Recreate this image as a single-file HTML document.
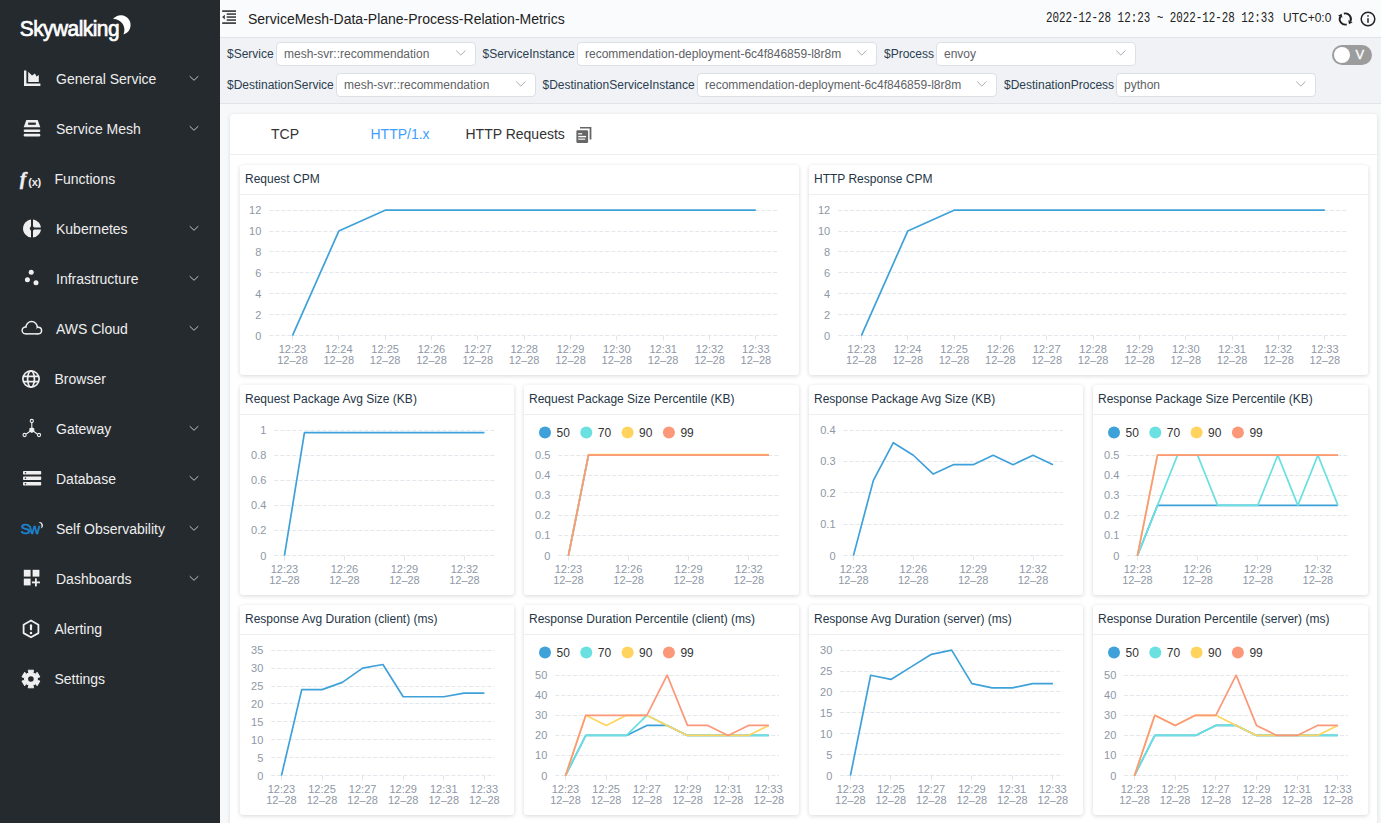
<!DOCTYPE html>
<html><head><meta charset="utf-8"><title>SkyWalking</title>
<style>html,body{margin:0;padding:0;width:1381px;height:823px;overflow:hidden;background:#f7f8fa;font-family:'Liberation Sans', sans-serif;}</style>
</head><body>
<div id="side" style="position:absolute;left:0;top:0;width:220px;height:823px;background:#252a2f;"></div><svg width="220" height="823" style="position:absolute;left:0;top:0"><text x="0" y="0" transform="translate(19.8 35.8) scale(0.95 1)" font-family="Liberation Sans" font-size="22" fill="#fff" stroke="#fff" stroke-width="0.7" letter-spacing="-0.55">Skywalking</text><path d="M113 19.1A9.8 9.8 0 1 1 123.4 34.5A10.8 10.8 0 0 0 113 19.1Z" fill="#fff"/><path d="M24 70.5h2.4v13h14v2.4H24z" fill="#efefef"/><path d="M28.2 71.8l3.8 3.8 3-2.2 1.5 3.1 2.3-1.4v6.8h-10.6z" fill="#efefef"/><text x="56" y="84" font-family="Liberation Sans" font-size="14" fill="#eeeeee">General Service</text><path d="M189.7 76.2l4.3 4.1 4.3-4.1" fill="none" stroke="#c0c4cc" stroke-width="1"/><path d="M26.3 120h11.4l2.6 7.2H23.7z" fill="#efefef"/><rect x="28.2" y="122.6" width="7.6" height="2.2" fill="#252a2f"/><rect x="23.7" y="129.4" width="16.6" height="2.6" rx="1.2" fill="#efefef"/><rect x="23.7" y="133.8" width="16.6" height="2.6" rx="1.2" fill="#efefef"/><text x="56" y="134" font-family="Liberation Sans" font-size="14" fill="#eeeeee">Service Mesh</text><path d="M189.7 126.2l4.3 4.1 4.3-4.1" fill="none" stroke="#c0c4cc" stroke-width="1"/><text x="20" y="185.3" font-family="Liberation Serif" font-style="italic" font-weight="bold" font-size="18" fill="#efefef" stroke="#efefef" stroke-width="0.6">f</text><text x="28.3" y="186.2" font-family="Liberation Sans" font-weight="bold" font-size="11" fill="#efefef" letter-spacing="-0.3">(x)</text><text x="54.5" y="184" font-family="Liberation Sans" font-size="14" fill="#eeeeee">Functions</text><path d="M32 219.5a9 9 0 1 0 0.01 0z" fill="#efefef"/><rect x="31" y="218" width="2" height="20" fill="#252a2f"/><rect x="31" y="227.5" width="12" height="2" fill="#252a2f"/><circle cx="32" cy="228.5" r="2.2" fill="#252a2f"/><text x="56" y="234" font-family="Liberation Sans" font-size="14" fill="#eeeeee">Kubernetes</text><path d="M189.7 226.2l4.3 4.1 4.3-4.1" fill="none" stroke="#c0c4cc" stroke-width="1"/><circle cx="31.2" cy="272.2" r="2.5" fill="#efefef"/><circle cx="27.4" cy="279.8" r="2.5" fill="#efefef"/><circle cx="36" cy="282.8" r="2.5" fill="#efefef"/><text x="56" y="284" font-family="Liberation Sans" font-size="14" fill="#eeeeee">Infrastructure</text><path d="M189.7 276.2l4.3 4.1 4.3-4.1" fill="none" stroke="#c0c4cc" stroke-width="1"/><g fill="#efefef"><circle cx="25.6" cy="330.4" r="4.2"/><circle cx="31.6" cy="327.2" r="6.4"/><circle cx="38.2" cy="330.5" r="4.1"/><rect x="25.6" y="330" width="12.6" height="4.6"/></g><g fill="#252a2f"><circle cx="25.6" cy="330.4" r="2.7"/><circle cx="31.6" cy="327.2" r="4.9"/><circle cx="38.2" cy="330.5" r="2.6"/><rect x="25.6" y="330" width="12.6" height="3.1"/></g><text x="56" y="334" font-family="Liberation Sans" font-size="14" fill="#eeeeee">AWS Cloud</text><path d="M189.7 326.2l4.3 4.1 4.3-4.1" fill="none" stroke="#c0c4cc" stroke-width="1"/><g fill="none" stroke="#efefef" stroke-width="1.7"><circle cx="31" cy="379" r="8.1"/><ellipse cx="31" cy="379" rx="3.4" ry="8.1"/><path d="M23 376.3h16M23 381.7h16"/></g><text x="54.5" y="384" font-family="Liberation Sans" font-size="14" fill="#eeeeee">Browser</text><g fill="none" stroke="#efefef" stroke-width="1.1"><circle cx="31.8" cy="421" r="1.6"/><path d="M31.8 422.6v5.2M31.8 430l-5.5 4M31.8 430l5.5 4"/><circle cx="24.6" cy="435" r="1.6"/><circle cx="39" cy="435" r="1.6"/></g><path d="M29.3 428.6l2.5-1.4 2.5 1.4v2.9l-2.5 1.4-2.5-1.4z" fill="#efefef"/><text x="56" y="434" font-family="Liberation Sans" font-size="14" fill="#eeeeee">Gateway</text><path d="M189.7 426.2l4.3 4.1 4.3-4.1" fill="none" stroke="#c0c4cc" stroke-width="1"/><g fill="#efefef"><rect x="23" y="471" width="18.2" height="3.6" rx="0.8"/><rect x="23" y="476.5" width="18.2" height="3.6" rx="0.8"/><rect x="23" y="482" width="18.2" height="3.6" rx="0.8"/></g><g fill="#252a2f"><circle cx="25.5" cy="472.8" r="0.8"/><circle cx="25.5" cy="478.3" r="0.8"/><circle cx="25.5" cy="483.8" r="0.8"/></g><text x="56" y="484" font-family="Liberation Sans" font-size="14" fill="#eeeeee">Database</text><path d="M189.7 476.2l4.3 4.1 4.3-4.1" fill="none" stroke="#c0c4cc" stroke-width="1"/><text x="20.6" y="534.4" font-family="Liberation Sans" font-size="15" letter-spacing="-1.3" fill="#1c86d1" stroke="#1c86d1" stroke-width="0.5">Sw</text><path d="M38.4 522.2A3.3 3.3 0 1 1 40.6 528.6A3.9 3.9 0 0 0 38.4 522.2Z" fill="#efefef"/><text x="56" y="534" font-family="Liberation Sans" font-size="14" fill="#eeeeee">Self Observability</text><path d="M189.7 526.2l4.3 4.1 4.3-4.1" fill="none" stroke="#c0c4cc" stroke-width="1"/><g fill="#efefef"><rect x="23.8" y="569.8" width="6.8" height="6.8"/><rect x="32.6" y="569.8" width="6.8" height="6.8"/><rect x="23.8" y="578.6" width="6.8" height="6.8"/><rect x="35" y="578.4" width="1.8" height="8"/><rect x="31.9" y="581.5" width="8" height="1.8"/></g><text x="56" y="584" font-family="Liberation Sans" font-size="14" fill="#eeeeee">Dashboards</text><path d="M189.7 576.2l4.3 4.1 4.3-4.1" fill="none" stroke="#c0c4cc" stroke-width="1"/><path d="M31 620.5l7.4 4.2v8.4l-7.4 4.2-7.4-4.2v-8.4z" fill="none" stroke="#efefef" stroke-width="1.8" stroke-linejoin="round"/><rect x="29.9" y="624.2" width="2.2" height="6.2" rx="1.1" fill="#efefef"/><circle cx="31" cy="633" r="1.25" fill="#efefef"/><text x="54.5" y="634" font-family="Liberation Sans" font-size="14" fill="#eeeeee">Alerting</text><path d="M28.18 670.21 L33.62 670.21 L32.87 672.70 L35.37 674.14 L37.15 672.25 L39.87 676.96 L37.34 677.56 L37.34 680.44 L39.87 681.04 L37.15 685.75 L35.37 683.86 L32.87 685.30 L33.62 687.79 L28.18 687.79 L28.93 685.30 L26.43 683.86 L24.65 685.75 L21.93 681.04 L24.46 680.44 L24.46 677.56 L21.93 676.96 L24.65 672.25 L26.43 674.14 L28.93 672.70Z" fill="#efefef" stroke="#efefef" stroke-width="1" stroke-linejoin="round"/><circle cx="30.9" cy="679.0" r="2.8" fill="#252a2f"/><text x="54.5" y="684" font-family="Liberation Sans" font-size="14" fill="#eeeeee">Settings</text></svg><div style="position:absolute;left:220px;top:0;width:1161px;height:37px;background:#fafbfc;border-bottom:1px solid #dfe4e8;"></div><svg width="20" height="20" style="position:absolute;left:220px;top:7px"><g fill="#333"><rect x="2.2" y="3.3" width="13.8" height="1.6"/><rect x="6.7" y="6.3" width="9.3" height="1.5"/><rect x="6.7" y="9.3" width="9.3" height="1.5"/><rect x="6.7" y="12.3" width="9.3" height="1.5"/><rect x="2.2" y="15.3" width="13.8" height="1.6"/><path d="M2.2 10.1l2.6-2.4v4.8z"/></g></svg><div style="position:absolute;left:248px;top:11px;font:14px 'Liberation Sans', sans-serif;color:#222;line-height:16px;white-space:nowrap">ServiceMesh-Data-Plane-Process-Relation-Metrics</div><div style="position:absolute;left:1046px;top:10px;font:14px 'Liberation Mono',monospace;color:#222;line-height:16px;white-space:nowrap;transform:scaleX(0.775);transform-origin:0 0">2022-12-28 12:23 ~ 2022-12-28 12:33</div><div style="position:absolute;left:1283px;top:10px;font:12px 'Liberation Sans', sans-serif;color:#222;line-height:16px;white-space:nowrap">UTC+0:0</div><svg width="20" height="20" style="position:absolute;left:1335px;top:9px"><g fill="none" stroke="#222" stroke-width="1.9"><path d="M8.85 4.59A5.6 5.6 0 0 1 15.38 12.37"/><path d="M11.75 15.41A5.6 5.6 0 0 1 5.22 7.63"/></g><g fill="#222"><path d="M14.0 15.3L17.6 13.2L13.2 11.3z"/><path d="M6.6 4.7L3.0 6.8L7.4 8.7z"/></g></svg><svg width="20" height="20" style="position:absolute;left:1358px;top:9px"><circle cx="10" cy="10" r="6.8" fill="none" stroke="#222" stroke-width="1.5"/><rect x="9.2" y="9.2" width="1.6" height="4.6" fill="#333"/><circle cx="10" cy="6.9" r="0.95" fill="#444"/></svg><div style="position:absolute;left:220px;top:38px;width:1161px;height:65px;background:#f0f2f5;border-bottom:1px solid #dfe4e8;"></div><div style="position:absolute;left:227px;top:47px;font:12px 'Liberation Sans', sans-serif;color:#2c3e50;line-height:14px;white-space:nowrap">$Service</div><div style="position:absolute;left:276px;top:42px;width:198px;height:22px;background:#fff;border:1px solid #dcdfe6;border-radius:4px;"></div><div style="position:absolute;left:284px;top:47px;font:12px 'Liberation Sans', sans-serif;color:#606266;line-height:14px;white-space:nowrap">mesh-svr::recommendation</div><svg width="12" height="8" style="position:absolute;left:455px;top:49px"><path d="M1.2 1.5l4.6 4.6 4.6-4.6" fill="none" stroke="#a8abb2" stroke-width="1"/></svg><div style="position:absolute;left:482.5px;top:47px;font:12px 'Liberation Sans', sans-serif;color:#2c3e50;line-height:14px;white-space:nowrap">$ServiceInstance</div><div style="position:absolute;left:577px;top:42px;width:298px;height:22px;background:#fff;border:1px solid #dcdfe6;border-radius:4px;"></div><div style="position:absolute;left:585px;top:47px;font:12px 'Liberation Sans', sans-serif;color:#606266;line-height:14px;white-space:nowrap">recommendation-deployment-6c4f846859-l8r8m</div><svg width="12" height="8" style="position:absolute;left:856px;top:49px"><path d="M1.2 1.5l4.6 4.6 4.6-4.6" fill="none" stroke="#a8abb2" stroke-width="1"/></svg><div style="position:absolute;left:884px;top:47px;font:12px 'Liberation Sans', sans-serif;color:#2c3e50;line-height:14px;white-space:nowrap">$Process</div><div style="position:absolute;left:936px;top:42px;width:198px;height:22px;background:#fff;border:1px solid #dcdfe6;border-radius:4px;"></div><div style="position:absolute;left:944px;top:47px;font:12px 'Liberation Sans', sans-serif;color:#606266;line-height:14px;white-space:nowrap">envoy</div><svg width="12" height="8" style="position:absolute;left:1115px;top:49px"><path d="M1.2 1.5l4.6 4.6 4.6-4.6" fill="none" stroke="#a8abb2" stroke-width="1"/></svg><div style="position:absolute;left:227px;top:78px;font:12px 'Liberation Sans', sans-serif;color:#2c3e50;line-height:14px;white-space:nowrap">$DestinationService</div><div style="position:absolute;left:336px;top:73px;width:198px;height:22px;background:#fff;border:1px solid #dcdfe6;border-radius:4px;"></div><div style="position:absolute;left:344px;top:78px;font:12px 'Liberation Sans', sans-serif;color:#606266;line-height:14px;white-space:nowrap">mesh-svr::recommendation</div><svg width="12" height="8" style="position:absolute;left:515px;top:80px"><path d="M1.2 1.5l4.6 4.6 4.6-4.6" fill="none" stroke="#a8abb2" stroke-width="1"/></svg><div style="position:absolute;left:542.5px;top:78px;font:12px 'Liberation Sans', sans-serif;color:#2c3e50;line-height:14px;white-space:nowrap">$DestinationServiceInstance</div><div style="position:absolute;left:697px;top:73px;width:298px;height:22px;background:#fff;border:1px solid #dcdfe6;border-radius:4px;"></div><div style="position:absolute;left:705px;top:78px;font:12px 'Liberation Sans', sans-serif;color:#606266;line-height:14px;white-space:nowrap">recommendation-deployment-6c4f846859-l8r8m</div><svg width="12" height="8" style="position:absolute;left:976px;top:80px"><path d="M1.2 1.5l4.6 4.6 4.6-4.6" fill="none" stroke="#a8abb2" stroke-width="1"/></svg><div style="position:absolute;left:1004px;top:78px;font:12px 'Liberation Sans', sans-serif;color:#2c3e50;line-height:14px;white-space:nowrap">$DestinationProcess</div><div style="position:absolute;left:1116px;top:73px;width:198px;height:22px;background:#fff;border:1px solid #dcdfe6;border-radius:4px;"></div><div style="position:absolute;left:1124px;top:78px;font:12px 'Liberation Sans', sans-serif;color:#606266;line-height:14px;white-space:nowrap">python</div><svg width="12" height="8" style="position:absolute;left:1295px;top:80px"><path d="M1.2 1.5l4.6 4.6 4.6-4.6" fill="none" stroke="#a8abb2" stroke-width="1"/></svg><div style="position:absolute;left:1332px;top:45px;width:40px;height:20px;border-radius:10px;background:#9c9c9c;"></div><div style="position:absolute;left:1334px;top:47px;width:16px;height:16px;border-radius:8px;background:#fff;"></div><div style="position:absolute;left:1355.5px;top:47.5px;font:13px 'Liberation Sans', sans-serif;color:#fff;line-height:14px;-webkit-text-stroke:0.3px #fff">V</div><div style="position:absolute;left:220px;top:104px;width:1161px;height:719px;background:#f7f8fa;"></div><div style="position:absolute;left:230px;top:114px;width:1147px;height:760px;background:#fff;border-radius:4px;box-shadow:0 1px 4px rgba(0,0,0,0.12);"></div><div style="position:absolute;left:230px;top:154px;width:1147px;height:1px;background:#eeeeee;"></div><div style="position:absolute;left:271px;top:126px;font:14px 'Liberation Sans', sans-serif;color:#333;line-height:16px">TCP</div><div style="position:absolute;left:370.5px;top:126px;font:14px 'Liberation Sans', sans-serif;color:#409eff;line-height:16px">HTTP/1.x</div><div style="position:absolute;left:465.5px;top:126px;font:14px 'Liberation Sans', sans-serif;color:#333;line-height:16px">HTTP Requests</div><svg width="18" height="18" style="position:absolute;left:575px;top:126px"><g fill="#666"><path d="M5 0.9h11.4v12.6h-1.8V2.6H5z"/><rect x="1.4" y="4.2" width="11.7" height="12.8" rx="1.2"/></g><g fill="#fff"><rect x="3.2" y="7.2" width="4" height="1.2"/><rect x="3.2" y="9.9" width="7.9" height="1.4"/><rect x="3.2" y="12.5" width="7" height="1.4" fill-opacity="0.8"/></g></svg><div style="position:absolute;left:240px;top:165px;width:559px;height:210px;background:#fff;border-radius:3px;box-shadow:0 1px 4px rgba(0,0,0,0.16);"></div><div style="position:absolute;left:240px;top:194px;width:559px;height:1px;background:#eeeeee;"></div><div style="position:absolute;left:245px;top:172px;font:12px 'Liberation Sans', sans-serif;color:#253545;line-height:14px;white-space:nowrap">Request CPM</div><div style="position:absolute;left:809px;top:165px;width:559px;height:210px;background:#fff;border-radius:3px;box-shadow:0 1px 4px rgba(0,0,0,0.16);"></div><div style="position:absolute;left:809px;top:194px;width:559px;height:1px;background:#eeeeee;"></div><div style="position:absolute;left:814px;top:172px;font:12px 'Liberation Sans', sans-serif;color:#253545;line-height:14px;white-space:nowrap">HTTP Response CPM</div><div style="position:absolute;left:240px;top:385px;width:274px;height:210px;background:#fff;border-radius:3px;box-shadow:0 1px 4px rgba(0,0,0,0.16);"></div><div style="position:absolute;left:240px;top:414px;width:274px;height:1px;background:#eeeeee;"></div><div style="position:absolute;left:245px;top:392px;font:12px 'Liberation Sans', sans-serif;color:#253545;line-height:14px;white-space:nowrap">Request Package Avg Size (KB)</div><div style="position:absolute;left:524px;top:385px;width:275px;height:210px;background:#fff;border-radius:3px;box-shadow:0 1px 4px rgba(0,0,0,0.16);"></div><div style="position:absolute;left:524px;top:414px;width:275px;height:1px;background:#eeeeee;"></div><div style="position:absolute;left:529px;top:392px;font:12px 'Liberation Sans', sans-serif;color:#253545;line-height:14px;white-space:nowrap">Request Package Size Percentile (KB)</div><div style="position:absolute;left:809px;top:385px;width:274px;height:210px;background:#fff;border-radius:3px;box-shadow:0 1px 4px rgba(0,0,0,0.16);"></div><div style="position:absolute;left:809px;top:414px;width:274px;height:1px;background:#eeeeee;"></div><div style="position:absolute;left:814px;top:392px;font:12px 'Liberation Sans', sans-serif;color:#253545;line-height:14px;white-space:nowrap">Response Package Avg Size (KB)</div><div style="position:absolute;left:1093px;top:385px;width:275px;height:210px;background:#fff;border-radius:3px;box-shadow:0 1px 4px rgba(0,0,0,0.16);"></div><div style="position:absolute;left:1093px;top:414px;width:275px;height:1px;background:#eeeeee;"></div><div style="position:absolute;left:1098px;top:392px;font:12px 'Liberation Sans', sans-serif;color:#253545;line-height:14px;white-space:nowrap">Response Package Size Percentile (KB)</div><div style="position:absolute;left:240px;top:605px;width:274px;height:210px;background:#fff;border-radius:3px;box-shadow:0 1px 4px rgba(0,0,0,0.16);"></div><div style="position:absolute;left:240px;top:634px;width:274px;height:1px;background:#eeeeee;"></div><div style="position:absolute;left:245px;top:612px;font:12px 'Liberation Sans', sans-serif;color:#253545;line-height:14px;white-space:nowrap">Response Avg Duration (client) (ms)</div><div style="position:absolute;left:524px;top:605px;width:275px;height:210px;background:#fff;border-radius:3px;box-shadow:0 1px 4px rgba(0,0,0,0.16);"></div><div style="position:absolute;left:524px;top:634px;width:275px;height:1px;background:#eeeeee;"></div><div style="position:absolute;left:529px;top:612px;font:12px 'Liberation Sans', sans-serif;color:#253545;line-height:14px;white-space:nowrap">Response Duration Percentile (client) (ms)</div><div style="position:absolute;left:809px;top:605px;width:274px;height:210px;background:#fff;border-radius:3px;box-shadow:0 1px 4px rgba(0,0,0,0.16);"></div><div style="position:absolute;left:809px;top:634px;width:274px;height:1px;background:#eeeeee;"></div><div style="position:absolute;left:814px;top:612px;font:12px 'Liberation Sans', sans-serif;color:#253545;line-height:14px;white-space:nowrap">Response Avg Duration (server) (ms)</div><div style="position:absolute;left:1093px;top:605px;width:275px;height:210px;background:#fff;border-radius:3px;box-shadow:0 1px 4px rgba(0,0,0,0.16);"></div><div style="position:absolute;left:1093px;top:634px;width:275px;height:1px;background:#eeeeee;"></div><div style="position:absolute;left:1098px;top:612px;font:12px 'Liberation Sans', sans-serif;color:#253545;line-height:14px;white-space:nowrap">Response Duration Percentile (server) (ms)</div><svg width="1381" height="823" style="position:absolute;left:0;top:0"><line x1="269.3" y1="335.50" x2="779.0" y2="335.50" stroke="#e3e7ec" stroke-width="1" stroke-dasharray="4 2"/><text x="261.3" y="339.55" text-anchor="end" font-family="Liberation Sans" font-size="11" fill="#8e97a5">0</text><line x1="269.3" y1="314.50" x2="779.0" y2="314.50" stroke="#e3e7ec" stroke-width="1" stroke-dasharray="4 2"/><text x="261.3" y="318.63" text-anchor="end" font-family="Liberation Sans" font-size="11" fill="#8e97a5">2</text><line x1="269.3" y1="293.50" x2="779.0" y2="293.50" stroke="#e3e7ec" stroke-width="1" stroke-dasharray="4 2"/><text x="261.3" y="297.72" text-anchor="end" font-family="Liberation Sans" font-size="11" fill="#8e97a5">4</text><line x1="269.3" y1="272.50" x2="779.0" y2="272.50" stroke="#e3e7ec" stroke-width="1" stroke-dasharray="4 2"/><text x="261.3" y="276.80" text-anchor="end" font-family="Liberation Sans" font-size="11" fill="#8e97a5">6</text><line x1="269.3" y1="251.50" x2="779.0" y2="251.50" stroke="#e3e7ec" stroke-width="1" stroke-dasharray="4 2"/><text x="261.3" y="255.88" text-anchor="end" font-family="Liberation Sans" font-size="11" fill="#8e97a5">8</text><line x1="269.3" y1="231.50" x2="779.0" y2="231.50" stroke="#e3e7ec" stroke-width="1" stroke-dasharray="4 2"/><text x="261.3" y="234.97" text-anchor="end" font-family="Liberation Sans" font-size="11" fill="#8e97a5">10</text><line x1="269.3" y1="210.50" x2="779.0" y2="210.50" stroke="#e3e7ec" stroke-width="1" stroke-dasharray="4 2"/><text x="261.3" y="214.05" text-anchor="end" font-family="Liberation Sans" font-size="11" fill="#8e97a5">12</text><line x1="292.50" y1="335.5" x2="292.50" y2="340.5" stroke="#e3e7ec" stroke-width="1"/><text x="292.47" y="352.9" text-anchor="middle" font-family="Liberation Sans" font-size="11" fill="#8e97a5">12:23</text><text x="292.47" y="363.8" text-anchor="middle" font-family="Liberation Sans" font-size="11" fill="#8e97a5">12–28</text><line x1="338.50" y1="335.5" x2="338.50" y2="340.5" stroke="#e3e7ec" stroke-width="1"/><text x="338.80" y="352.9" text-anchor="middle" font-family="Liberation Sans" font-size="11" fill="#8e97a5">12:24</text><text x="338.80" y="363.8" text-anchor="middle" font-family="Liberation Sans" font-size="11" fill="#8e97a5">12–28</text><line x1="385.50" y1="335.5" x2="385.50" y2="340.5" stroke="#e3e7ec" stroke-width="1"/><text x="385.14" y="352.9" text-anchor="middle" font-family="Liberation Sans" font-size="11" fill="#8e97a5">12:25</text><text x="385.14" y="363.8" text-anchor="middle" font-family="Liberation Sans" font-size="11" fill="#8e97a5">12–28</text><line x1="431.50" y1="335.5" x2="431.50" y2="340.5" stroke="#e3e7ec" stroke-width="1"/><text x="431.48" y="352.9" text-anchor="middle" font-family="Liberation Sans" font-size="11" fill="#8e97a5">12:26</text><text x="431.48" y="363.8" text-anchor="middle" font-family="Liberation Sans" font-size="11" fill="#8e97a5">12–28</text><line x1="477.50" y1="335.5" x2="477.50" y2="340.5" stroke="#e3e7ec" stroke-width="1"/><text x="477.81" y="352.9" text-anchor="middle" font-family="Liberation Sans" font-size="11" fill="#8e97a5">12:27</text><text x="477.81" y="363.8" text-anchor="middle" font-family="Liberation Sans" font-size="11" fill="#8e97a5">12–28</text><line x1="524.50" y1="335.5" x2="524.50" y2="340.5" stroke="#e3e7ec" stroke-width="1"/><text x="524.15" y="352.9" text-anchor="middle" font-family="Liberation Sans" font-size="11" fill="#8e97a5">12:28</text><text x="524.15" y="363.8" text-anchor="middle" font-family="Liberation Sans" font-size="11" fill="#8e97a5">12–28</text><line x1="570.50" y1="335.5" x2="570.50" y2="340.5" stroke="#e3e7ec" stroke-width="1"/><text x="570.49" y="352.9" text-anchor="middle" font-family="Liberation Sans" font-size="11" fill="#8e97a5">12:29</text><text x="570.49" y="363.8" text-anchor="middle" font-family="Liberation Sans" font-size="11" fill="#8e97a5">12–28</text><line x1="616.50" y1="335.5" x2="616.50" y2="340.5" stroke="#e3e7ec" stroke-width="1"/><text x="616.82" y="352.9" text-anchor="middle" font-family="Liberation Sans" font-size="11" fill="#8e97a5">12:30</text><text x="616.82" y="363.8" text-anchor="middle" font-family="Liberation Sans" font-size="11" fill="#8e97a5">12–28</text><line x1="663.50" y1="335.5" x2="663.50" y2="340.5" stroke="#e3e7ec" stroke-width="1"/><text x="663.16" y="352.9" text-anchor="middle" font-family="Liberation Sans" font-size="11" fill="#8e97a5">12:31</text><text x="663.16" y="363.8" text-anchor="middle" font-family="Liberation Sans" font-size="11" fill="#8e97a5">12–28</text><line x1="709.50" y1="335.5" x2="709.50" y2="340.5" stroke="#e3e7ec" stroke-width="1"/><text x="709.50" y="352.9" text-anchor="middle" font-family="Liberation Sans" font-size="11" fill="#8e97a5">12:32</text><text x="709.50" y="363.8" text-anchor="middle" font-family="Liberation Sans" font-size="11" fill="#8e97a5">12–28</text><line x1="755.50" y1="335.5" x2="755.50" y2="340.5" stroke="#e3e7ec" stroke-width="1"/><text x="755.83" y="352.9" text-anchor="middle" font-family="Liberation Sans" font-size="11" fill="#8e97a5">12:33</text><text x="755.83" y="363.8" text-anchor="middle" font-family="Liberation Sans" font-size="11" fill="#8e97a5">12–28</text><polyline points="292.47,335.65 338.80,231.07 385.14,210.15 431.48,210.15 477.81,210.15 524.15,210.15 570.49,210.15 616.82,210.15 663.16,210.15 709.50,210.15 755.83,210.15" fill="none" stroke="#3fa1d9" stroke-width="1.7" stroke-linejoin="round"/><line x1="838.2" y1="335.50" x2="1348.0" y2="335.50" stroke="#e3e7ec" stroke-width="1" stroke-dasharray="4 2"/><text x="830.2" y="339.55" text-anchor="end" font-family="Liberation Sans" font-size="11" fill="#8e97a5">0</text><line x1="838.2" y1="314.50" x2="1348.0" y2="314.50" stroke="#e3e7ec" stroke-width="1" stroke-dasharray="4 2"/><text x="830.2" y="318.63" text-anchor="end" font-family="Liberation Sans" font-size="11" fill="#8e97a5">2</text><line x1="838.2" y1="293.50" x2="1348.0" y2="293.50" stroke="#e3e7ec" stroke-width="1" stroke-dasharray="4 2"/><text x="830.2" y="297.72" text-anchor="end" font-family="Liberation Sans" font-size="11" fill="#8e97a5">4</text><line x1="838.2" y1="272.50" x2="1348.0" y2="272.50" stroke="#e3e7ec" stroke-width="1" stroke-dasharray="4 2"/><text x="830.2" y="276.80" text-anchor="end" font-family="Liberation Sans" font-size="11" fill="#8e97a5">6</text><line x1="838.2" y1="251.50" x2="1348.0" y2="251.50" stroke="#e3e7ec" stroke-width="1" stroke-dasharray="4 2"/><text x="830.2" y="255.88" text-anchor="end" font-family="Liberation Sans" font-size="11" fill="#8e97a5">8</text><line x1="838.2" y1="231.50" x2="1348.0" y2="231.50" stroke="#e3e7ec" stroke-width="1" stroke-dasharray="4 2"/><text x="830.2" y="234.97" text-anchor="end" font-family="Liberation Sans" font-size="11" fill="#8e97a5">10</text><line x1="838.2" y1="210.50" x2="1348.0" y2="210.50" stroke="#e3e7ec" stroke-width="1" stroke-dasharray="4 2"/><text x="830.2" y="214.05" text-anchor="end" font-family="Liberation Sans" font-size="11" fill="#8e97a5">12</text><line x1="861.50" y1="335.5" x2="861.50" y2="340.5" stroke="#e3e7ec" stroke-width="1"/><text x="861.37" y="352.9" text-anchor="middle" font-family="Liberation Sans" font-size="11" fill="#8e97a5">12:23</text><text x="861.37" y="363.8" text-anchor="middle" font-family="Liberation Sans" font-size="11" fill="#8e97a5">12–28</text><line x1="907.50" y1="335.5" x2="907.50" y2="340.5" stroke="#e3e7ec" stroke-width="1"/><text x="907.72" y="352.9" text-anchor="middle" font-family="Liberation Sans" font-size="11" fill="#8e97a5">12:24</text><text x="907.72" y="363.8" text-anchor="middle" font-family="Liberation Sans" font-size="11" fill="#8e97a5">12–28</text><line x1="954.50" y1="335.5" x2="954.50" y2="340.5" stroke="#e3e7ec" stroke-width="1"/><text x="954.06" y="352.9" text-anchor="middle" font-family="Liberation Sans" font-size="11" fill="#8e97a5">12:25</text><text x="954.06" y="363.8" text-anchor="middle" font-family="Liberation Sans" font-size="11" fill="#8e97a5">12–28</text><line x1="1000.50" y1="335.5" x2="1000.50" y2="340.5" stroke="#e3e7ec" stroke-width="1"/><text x="1000.41" y="352.9" text-anchor="middle" font-family="Liberation Sans" font-size="11" fill="#8e97a5">12:26</text><text x="1000.41" y="363.8" text-anchor="middle" font-family="Liberation Sans" font-size="11" fill="#8e97a5">12–28</text><line x1="1046.50" y1="335.5" x2="1046.50" y2="340.5" stroke="#e3e7ec" stroke-width="1"/><text x="1046.75" y="352.9" text-anchor="middle" font-family="Liberation Sans" font-size="11" fill="#8e97a5">12:27</text><text x="1046.75" y="363.8" text-anchor="middle" font-family="Liberation Sans" font-size="11" fill="#8e97a5">12–28</text><line x1="1093.50" y1="335.5" x2="1093.50" y2="340.5" stroke="#e3e7ec" stroke-width="1"/><text x="1093.10" y="352.9" text-anchor="middle" font-family="Liberation Sans" font-size="11" fill="#8e97a5">12:28</text><text x="1093.10" y="363.8" text-anchor="middle" font-family="Liberation Sans" font-size="11" fill="#8e97a5">12–28</text><line x1="1139.50" y1="335.5" x2="1139.50" y2="340.5" stroke="#e3e7ec" stroke-width="1"/><text x="1139.45" y="352.9" text-anchor="middle" font-family="Liberation Sans" font-size="11" fill="#8e97a5">12:29</text><text x="1139.45" y="363.8" text-anchor="middle" font-family="Liberation Sans" font-size="11" fill="#8e97a5">12–28</text><line x1="1185.50" y1="335.5" x2="1185.50" y2="340.5" stroke="#e3e7ec" stroke-width="1"/><text x="1185.79" y="352.9" text-anchor="middle" font-family="Liberation Sans" font-size="11" fill="#8e97a5">12:30</text><text x="1185.79" y="363.8" text-anchor="middle" font-family="Liberation Sans" font-size="11" fill="#8e97a5">12–28</text><line x1="1232.50" y1="335.5" x2="1232.50" y2="340.5" stroke="#e3e7ec" stroke-width="1"/><text x="1232.14" y="352.9" text-anchor="middle" font-family="Liberation Sans" font-size="11" fill="#8e97a5">12:31</text><text x="1232.14" y="363.8" text-anchor="middle" font-family="Liberation Sans" font-size="11" fill="#8e97a5">12–28</text><line x1="1278.50" y1="335.5" x2="1278.50" y2="340.5" stroke="#e3e7ec" stroke-width="1"/><text x="1278.48" y="352.9" text-anchor="middle" font-family="Liberation Sans" font-size="11" fill="#8e97a5">12:32</text><text x="1278.48" y="363.8" text-anchor="middle" font-family="Liberation Sans" font-size="11" fill="#8e97a5">12–28</text><line x1="1324.50" y1="335.5" x2="1324.50" y2="340.5" stroke="#e3e7ec" stroke-width="1"/><text x="1324.83" y="352.9" text-anchor="middle" font-family="Liberation Sans" font-size="11" fill="#8e97a5">12:33</text><text x="1324.83" y="363.8" text-anchor="middle" font-family="Liberation Sans" font-size="11" fill="#8e97a5">12–28</text><polyline points="861.37,335.65 907.72,231.07 954.06,210.15 1000.41,210.15 1046.75,210.15 1093.10,210.15 1139.45,210.15 1185.79,210.15 1232.14,210.15 1278.48,210.15 1324.83,210.15" fill="none" stroke="#3fa1d9" stroke-width="1.7" stroke-linejoin="round"/><line x1="274.4" y1="555.50" x2="494.4" y2="555.50" stroke="#e3e7ec" stroke-width="1" stroke-dasharray="4 2"/><text x="266.4" y="559.55" text-anchor="end" font-family="Liberation Sans" font-size="11" fill="#8e97a5">0</text><line x1="274.4" y1="530.50" x2="494.4" y2="530.50" stroke="#e3e7ec" stroke-width="1" stroke-dasharray="4 2"/><text x="266.4" y="534.45" text-anchor="end" font-family="Liberation Sans" font-size="11" fill="#8e97a5">0.2</text><line x1="274.4" y1="505.50" x2="494.4" y2="505.50" stroke="#e3e7ec" stroke-width="1" stroke-dasharray="4 2"/><text x="266.4" y="509.35" text-anchor="end" font-family="Liberation Sans" font-size="11" fill="#8e97a5">0.4</text><line x1="274.4" y1="480.50" x2="494.4" y2="480.50" stroke="#e3e7ec" stroke-width="1" stroke-dasharray="4 2"/><text x="266.4" y="484.25" text-anchor="end" font-family="Liberation Sans" font-size="11" fill="#8e97a5">0.6</text><line x1="274.4" y1="455.50" x2="494.4" y2="455.50" stroke="#e3e7ec" stroke-width="1" stroke-dasharray="4 2"/><text x="266.4" y="459.15" text-anchor="end" font-family="Liberation Sans" font-size="11" fill="#8e97a5">0.8</text><line x1="274.4" y1="430.50" x2="494.4" y2="430.50" stroke="#e3e7ec" stroke-width="1" stroke-dasharray="4 2"/><text x="266.4" y="434.05" text-anchor="end" font-family="Liberation Sans" font-size="11" fill="#8e97a5">1</text><line x1="284.50" y1="555.5" x2="284.50" y2="560.5" stroke="#e3e7ec" stroke-width="1"/><text x="284.45" y="572.9" text-anchor="middle" font-family="Liberation Sans" font-size="11" fill="#8e97a5">12:23</text><text x="284.45" y="583.9" text-anchor="middle" font-family="Liberation Sans" font-size="11" fill="#8e97a5">12–28</text><line x1="344.50" y1="555.5" x2="344.50" y2="560.5" stroke="#e3e7ec" stroke-width="1"/><text x="344.45" y="572.9" text-anchor="middle" font-family="Liberation Sans" font-size="11" fill="#8e97a5">12:26</text><text x="344.45" y="583.9" text-anchor="middle" font-family="Liberation Sans" font-size="11" fill="#8e97a5">12–28</text><line x1="404.50" y1="555.5" x2="404.50" y2="560.5" stroke="#e3e7ec" stroke-width="1"/><text x="404.45" y="572.9" text-anchor="middle" font-family="Liberation Sans" font-size="11" fill="#8e97a5">12:29</text><text x="404.45" y="583.9" text-anchor="middle" font-family="Liberation Sans" font-size="11" fill="#8e97a5">12–28</text><line x1="464.50" y1="555.5" x2="464.50" y2="560.5" stroke="#e3e7ec" stroke-width="1"/><text x="464.45" y="572.9" text-anchor="middle" font-family="Liberation Sans" font-size="11" fill="#8e97a5">12:32</text><text x="464.45" y="583.9" text-anchor="middle" font-family="Liberation Sans" font-size="11" fill="#8e97a5">12–28</text><polyline points="284.45,555.65 304.45,432.66 324.45,432.66 344.45,432.66 364.45,432.66 384.45,432.66 404.45,432.66 424.45,432.66 444.45,432.66 464.45,432.66 484.45,432.66" fill="none" stroke="#3fa1d9" stroke-width="1.7" stroke-linejoin="round"/><line x1="558.4" y1="555.50" x2="779.0" y2="555.50" stroke="#e3e7ec" stroke-width="1" stroke-dasharray="4 2"/><text x="550.4" y="559.55" text-anchor="end" font-family="Liberation Sans" font-size="11" fill="#8e97a5">0</text><line x1="558.4" y1="535.50" x2="779.0" y2="535.50" stroke="#e3e7ec" stroke-width="1" stroke-dasharray="4 2"/><text x="550.4" y="539.45" text-anchor="end" font-family="Liberation Sans" font-size="11" fill="#8e97a5">0.1</text><line x1="558.4" y1="515.50" x2="779.0" y2="515.50" stroke="#e3e7ec" stroke-width="1" stroke-dasharray="4 2"/><text x="550.4" y="519.35" text-anchor="end" font-family="Liberation Sans" font-size="11" fill="#8e97a5">0.2</text><line x1="558.4" y1="495.50" x2="779.0" y2="495.50" stroke="#e3e7ec" stroke-width="1" stroke-dasharray="4 2"/><text x="550.4" y="499.25" text-anchor="end" font-family="Liberation Sans" font-size="11" fill="#8e97a5">0.3</text><line x1="558.4" y1="475.50" x2="779.0" y2="475.50" stroke="#e3e7ec" stroke-width="1" stroke-dasharray="4 2"/><text x="550.4" y="479.15" text-anchor="end" font-family="Liberation Sans" font-size="11" fill="#8e97a5">0.4</text><line x1="558.4" y1="455.50" x2="779.0" y2="455.50" stroke="#e3e7ec" stroke-width="1" stroke-dasharray="4 2"/><text x="550.4" y="459.05" text-anchor="end" font-family="Liberation Sans" font-size="11" fill="#8e97a5">0.5</text><line x1="568.50" y1="555.5" x2="568.50" y2="560.5" stroke="#e3e7ec" stroke-width="1"/><text x="568.43" y="572.9" text-anchor="middle" font-family="Liberation Sans" font-size="11" fill="#8e97a5">12:23</text><text x="568.43" y="583.9" text-anchor="middle" font-family="Liberation Sans" font-size="11" fill="#8e97a5">12–28</text><line x1="628.50" y1="555.5" x2="628.50" y2="560.5" stroke="#e3e7ec" stroke-width="1"/><text x="628.59" y="572.9" text-anchor="middle" font-family="Liberation Sans" font-size="11" fill="#8e97a5">12:26</text><text x="628.59" y="583.9" text-anchor="middle" font-family="Liberation Sans" font-size="11" fill="#8e97a5">12–28</text><line x1="688.50" y1="555.5" x2="688.50" y2="560.5" stroke="#e3e7ec" stroke-width="1"/><text x="688.75" y="572.9" text-anchor="middle" font-family="Liberation Sans" font-size="11" fill="#8e97a5">12:29</text><text x="688.75" y="583.9" text-anchor="middle" font-family="Liberation Sans" font-size="11" fill="#8e97a5">12–28</text><line x1="748.50" y1="555.5" x2="748.50" y2="560.5" stroke="#e3e7ec" stroke-width="1"/><text x="748.92" y="572.9" text-anchor="middle" font-family="Liberation Sans" font-size="11" fill="#8e97a5">12:32</text><text x="748.92" y="583.9" text-anchor="middle" font-family="Liberation Sans" font-size="11" fill="#8e97a5">12–28</text><polyline points="568.43,555.65 588.48,455.15 608.54,455.15 628.59,455.15 648.65,455.15 668.70,455.15 688.75,455.15 708.81,455.15 728.86,455.15 748.92,455.15 768.97,455.15" fill="none" stroke="#3fa1d9" stroke-width="1.7" stroke-linejoin="round"/><polyline points="568.43,555.65 588.48,455.15 608.54,455.15 628.59,455.15 648.65,455.15 668.70,455.15 688.75,455.15 708.81,455.15 728.86,455.15 748.92,455.15 768.97,455.15" fill="none" stroke="#6ae0e0" stroke-width="1.7" stroke-linejoin="round"/><polyline points="568.43,555.65 588.48,454.55 608.54,454.55 628.59,454.55 648.65,454.55 668.70,454.55 688.75,454.55 708.81,454.55 728.86,454.55 748.92,454.55 768.97,454.55" fill="none" stroke="#ffd45e" stroke-width="1.7" stroke-linejoin="round"/><polyline points="568.43,555.65 588.48,455.15 608.54,455.15 628.59,455.15 648.65,455.15 668.70,455.15 688.75,455.15 708.81,455.15 728.86,455.15 748.92,455.15 768.97,455.15" fill="none" stroke="#fb9879" stroke-width="1.7" stroke-linejoin="round"/><circle cx="545.0" cy="432.4" r="6" fill="#3fa1d9"/><text x="556.5" y="436.7" font-family="Liberation Sans" font-size="12" fill="#333">50</text><circle cx="586.3" cy="432.4" r="6" fill="#6ae0e0"/><text x="597.8" y="436.7" font-family="Liberation Sans" font-size="12" fill="#333">70</text><circle cx="627.6" cy="432.4" r="6" fill="#ffd45e"/><text x="639.1" y="436.7" font-family="Liberation Sans" font-size="12" fill="#333">90</text><circle cx="668.9" cy="432.4" r="6" fill="#fb9879"/><text x="680.4" y="436.7" font-family="Liberation Sans" font-size="12" fill="#333">99</text><line x1="843.5" y1="555.50" x2="1063.0" y2="555.50" stroke="#e3e7ec" stroke-width="1" stroke-dasharray="4 2"/><text x="835.5" y="559.55" text-anchor="end" font-family="Liberation Sans" font-size="11" fill="#8e97a5">0</text><line x1="843.5" y1="524.50" x2="1063.0" y2="524.50" stroke="#e3e7ec" stroke-width="1" stroke-dasharray="4 2"/><text x="835.5" y="528.17" text-anchor="end" font-family="Liberation Sans" font-size="11" fill="#8e97a5">0.1</text><line x1="843.5" y1="492.50" x2="1063.0" y2="492.50" stroke="#e3e7ec" stroke-width="1" stroke-dasharray="4 2"/><text x="835.5" y="496.80" text-anchor="end" font-family="Liberation Sans" font-size="11" fill="#8e97a5">0.2</text><line x1="843.5" y1="461.50" x2="1063.0" y2="461.50" stroke="#e3e7ec" stroke-width="1" stroke-dasharray="4 2"/><text x="835.5" y="465.42" text-anchor="end" font-family="Liberation Sans" font-size="11" fill="#8e97a5">0.3</text><line x1="843.5" y1="430.50" x2="1063.0" y2="430.50" stroke="#e3e7ec" stroke-width="1" stroke-dasharray="4 2"/><text x="835.5" y="434.05" text-anchor="end" font-family="Liberation Sans" font-size="11" fill="#8e97a5">0.4</text><line x1="853.50" y1="555.5" x2="853.50" y2="560.5" stroke="#e3e7ec" stroke-width="1"/><text x="853.43" y="572.9" text-anchor="middle" font-family="Liberation Sans" font-size="11" fill="#8e97a5">12:23</text><text x="853.43" y="583.9" text-anchor="middle" font-family="Liberation Sans" font-size="11" fill="#8e97a5">12–28</text><line x1="913.50" y1="555.5" x2="913.50" y2="560.5" stroke="#e3e7ec" stroke-width="1"/><text x="913.31" y="572.9" text-anchor="middle" font-family="Liberation Sans" font-size="11" fill="#8e97a5">12:26</text><text x="913.31" y="583.9" text-anchor="middle" font-family="Liberation Sans" font-size="11" fill="#8e97a5">12–28</text><line x1="973.50" y1="555.5" x2="973.50" y2="560.5" stroke="#e3e7ec" stroke-width="1"/><text x="973.18" y="572.9" text-anchor="middle" font-family="Liberation Sans" font-size="11" fill="#8e97a5">12:29</text><text x="973.18" y="583.9" text-anchor="middle" font-family="Liberation Sans" font-size="11" fill="#8e97a5">12–28</text><line x1="1033.50" y1="555.5" x2="1033.50" y2="560.5" stroke="#e3e7ec" stroke-width="1"/><text x="1033.06" y="572.9" text-anchor="middle" font-family="Liberation Sans" font-size="11" fill="#8e97a5">12:32</text><text x="1033.06" y="583.9" text-anchor="middle" font-family="Liberation Sans" font-size="11" fill="#8e97a5">12–28</text><polyline points="853.43,555.65 873.39,480.35 893.35,442.70 913.31,455.25 933.27,474.07 953.23,464.66 973.18,464.66 993.14,455.25 1013.10,464.66 1033.06,455.25 1053.02,464.66" fill="none" stroke="#3fa1d9" stroke-width="1.7" stroke-linejoin="round"/><line x1="1127.4" y1="555.50" x2="1348.0" y2="555.50" stroke="#e3e7ec" stroke-width="1" stroke-dasharray="4 2"/><text x="1119.4" y="559.55" text-anchor="end" font-family="Liberation Sans" font-size="11" fill="#8e97a5">0</text><line x1="1127.4" y1="535.50" x2="1348.0" y2="535.50" stroke="#e3e7ec" stroke-width="1" stroke-dasharray="4 2"/><text x="1119.4" y="539.45" text-anchor="end" font-family="Liberation Sans" font-size="11" fill="#8e97a5">0.1</text><line x1="1127.4" y1="515.50" x2="1348.0" y2="515.50" stroke="#e3e7ec" stroke-width="1" stroke-dasharray="4 2"/><text x="1119.4" y="519.35" text-anchor="end" font-family="Liberation Sans" font-size="11" fill="#8e97a5">0.2</text><line x1="1127.4" y1="495.50" x2="1348.0" y2="495.50" stroke="#e3e7ec" stroke-width="1" stroke-dasharray="4 2"/><text x="1119.4" y="499.25" text-anchor="end" font-family="Liberation Sans" font-size="11" fill="#8e97a5">0.3</text><line x1="1127.4" y1="475.50" x2="1348.0" y2="475.50" stroke="#e3e7ec" stroke-width="1" stroke-dasharray="4 2"/><text x="1119.4" y="479.15" text-anchor="end" font-family="Liberation Sans" font-size="11" fill="#8e97a5">0.4</text><line x1="1127.4" y1="455.50" x2="1348.0" y2="455.50" stroke="#e3e7ec" stroke-width="1" stroke-dasharray="4 2"/><text x="1119.4" y="459.05" text-anchor="end" font-family="Liberation Sans" font-size="11" fill="#8e97a5">0.5</text><line x1="1137.50" y1="555.5" x2="1137.50" y2="560.5" stroke="#e3e7ec" stroke-width="1"/><text x="1137.43" y="572.9" text-anchor="middle" font-family="Liberation Sans" font-size="11" fill="#8e97a5">12:23</text><text x="1137.43" y="583.9" text-anchor="middle" font-family="Liberation Sans" font-size="11" fill="#8e97a5">12–28</text><line x1="1197.50" y1="555.5" x2="1197.50" y2="560.5" stroke="#e3e7ec" stroke-width="1"/><text x="1197.59" y="572.9" text-anchor="middle" font-family="Liberation Sans" font-size="11" fill="#8e97a5">12:26</text><text x="1197.59" y="583.9" text-anchor="middle" font-family="Liberation Sans" font-size="11" fill="#8e97a5">12–28</text><line x1="1257.50" y1="555.5" x2="1257.50" y2="560.5" stroke="#e3e7ec" stroke-width="1"/><text x="1257.75" y="572.9" text-anchor="middle" font-family="Liberation Sans" font-size="11" fill="#8e97a5">12:29</text><text x="1257.75" y="583.9" text-anchor="middle" font-family="Liberation Sans" font-size="11" fill="#8e97a5">12–28</text><line x1="1317.50" y1="555.5" x2="1317.50" y2="560.5" stroke="#e3e7ec" stroke-width="1"/><text x="1317.92" y="572.9" text-anchor="middle" font-family="Liberation Sans" font-size="11" fill="#8e97a5">12:32</text><text x="1317.92" y="583.9" text-anchor="middle" font-family="Liberation Sans" font-size="11" fill="#8e97a5">12–28</text><polyline points="1137.43,555.65 1157.48,505.40 1177.54,505.40 1197.59,505.40 1217.65,505.40 1237.70,505.40 1257.75,505.40 1277.81,505.40 1297.86,505.40 1317.92,505.40 1337.97,505.40" fill="none" stroke="#3fa1d9" stroke-width="1.7" stroke-linejoin="round"/><polyline points="1137.43,555.65 1157.48,505.40 1177.54,455.15 1197.59,455.15 1217.65,505.40 1237.70,505.40 1257.75,505.40 1277.81,455.15 1297.86,505.40 1317.92,455.15 1337.97,505.40" fill="none" stroke="#6ae0e0" stroke-width="1.7" stroke-linejoin="round"/><polyline points="1137.43,555.65 1157.48,455.15 1177.54,455.15 1197.59,455.15 1217.65,455.15 1237.70,455.15 1257.75,455.15 1277.81,455.15 1297.86,455.15 1317.92,455.15 1337.97,455.15" fill="none" stroke="#ffd45e" stroke-width="1.7" stroke-linejoin="round"/><polyline points="1137.43,555.65 1157.48,455.15 1177.54,455.15 1197.59,455.15 1217.65,455.15 1237.70,455.15 1257.75,455.15 1277.81,455.15 1297.86,455.15 1317.92,455.15 1337.97,455.15" fill="none" stroke="#fb9879" stroke-width="1.7" stroke-linejoin="round"/><circle cx="1114.0" cy="432.4" r="6" fill="#3fa1d9"/><text x="1125.5" y="436.7" font-family="Liberation Sans" font-size="12" fill="#333">50</text><circle cx="1155.3" cy="432.4" r="6" fill="#6ae0e0"/><text x="1166.8" y="436.7" font-family="Liberation Sans" font-size="12" fill="#333">70</text><circle cx="1196.6" cy="432.4" r="6" fill="#ffd45e"/><text x="1208.1" y="436.7" font-family="Liberation Sans" font-size="12" fill="#333">90</text><circle cx="1237.9" cy="432.4" r="6" fill="#fb9879"/><text x="1249.4" y="436.7" font-family="Liberation Sans" font-size="12" fill="#333">99</text><line x1="271.3" y1="775.50" x2="494.5" y2="775.50" stroke="#e3e7ec" stroke-width="1" stroke-dasharray="4 2"/><text x="263.3" y="779.55" text-anchor="end" font-family="Liberation Sans" font-size="11" fill="#8e97a5">0</text><line x1="271.3" y1="757.50" x2="494.5" y2="757.50" stroke="#e3e7ec" stroke-width="1" stroke-dasharray="4 2"/><text x="263.3" y="761.62" text-anchor="end" font-family="Liberation Sans" font-size="11" fill="#8e97a5">5</text><line x1="271.3" y1="739.50" x2="494.5" y2="739.50" stroke="#e3e7ec" stroke-width="1" stroke-dasharray="4 2"/><text x="263.3" y="743.69" text-anchor="end" font-family="Liberation Sans" font-size="11" fill="#8e97a5">10</text><line x1="271.3" y1="721.50" x2="494.5" y2="721.50" stroke="#e3e7ec" stroke-width="1" stroke-dasharray="4 2"/><text x="263.3" y="725.76" text-anchor="end" font-family="Liberation Sans" font-size="11" fill="#8e97a5">15</text><line x1="271.3" y1="703.50" x2="494.5" y2="703.50" stroke="#e3e7ec" stroke-width="1" stroke-dasharray="4 2"/><text x="263.3" y="707.84" text-anchor="end" font-family="Liberation Sans" font-size="11" fill="#8e97a5">20</text><line x1="271.3" y1="686.50" x2="494.5" y2="686.50" stroke="#e3e7ec" stroke-width="1" stroke-dasharray="4 2"/><text x="263.3" y="689.91" text-anchor="end" font-family="Liberation Sans" font-size="11" fill="#8e97a5">25</text><line x1="271.3" y1="668.50" x2="494.5" y2="668.50" stroke="#e3e7ec" stroke-width="1" stroke-dasharray="4 2"/><text x="263.3" y="671.98" text-anchor="end" font-family="Liberation Sans" font-size="11" fill="#8e97a5">30</text><line x1="271.3" y1="650.50" x2="494.5" y2="650.50" stroke="#e3e7ec" stroke-width="1" stroke-dasharray="4 2"/><text x="263.3" y="654.05" text-anchor="end" font-family="Liberation Sans" font-size="11" fill="#8e97a5">35</text><line x1="281.50" y1="775.5" x2="281.50" y2="780.5" stroke="#e3e7ec" stroke-width="1"/><text x="281.45" y="792.9" text-anchor="middle" font-family="Liberation Sans" font-size="11" fill="#8e97a5">12:23</text><text x="281.45" y="803.9" text-anchor="middle" font-family="Liberation Sans" font-size="11" fill="#8e97a5">12–28</text><line x1="322.50" y1="775.5" x2="322.50" y2="780.5" stroke="#e3e7ec" stroke-width="1"/><text x="322.03" y="792.9" text-anchor="middle" font-family="Liberation Sans" font-size="11" fill="#8e97a5">12:25</text><text x="322.03" y="803.9" text-anchor="middle" font-family="Liberation Sans" font-size="11" fill="#8e97a5">12–28</text><line x1="362.50" y1="775.5" x2="362.50" y2="780.5" stroke="#e3e7ec" stroke-width="1"/><text x="362.61" y="792.9" text-anchor="middle" font-family="Liberation Sans" font-size="11" fill="#8e97a5">12:27</text><text x="362.61" y="803.9" text-anchor="middle" font-family="Liberation Sans" font-size="11" fill="#8e97a5">12–28</text><line x1="403.50" y1="775.5" x2="403.50" y2="780.5" stroke="#e3e7ec" stroke-width="1"/><text x="403.19" y="792.9" text-anchor="middle" font-family="Liberation Sans" font-size="11" fill="#8e97a5">12:29</text><text x="403.19" y="803.9" text-anchor="middle" font-family="Liberation Sans" font-size="11" fill="#8e97a5">12–28</text><line x1="443.50" y1="775.5" x2="443.50" y2="780.5" stroke="#e3e7ec" stroke-width="1"/><text x="443.77" y="792.9" text-anchor="middle" font-family="Liberation Sans" font-size="11" fill="#8e97a5">12:31</text><text x="443.77" y="803.9" text-anchor="middle" font-family="Liberation Sans" font-size="11" fill="#8e97a5">12–28</text><line x1="484.50" y1="775.5" x2="484.50" y2="780.5" stroke="#e3e7ec" stroke-width="1"/><text x="484.35" y="792.9" text-anchor="middle" font-family="Liberation Sans" font-size="11" fill="#8e97a5">12:33</text><text x="484.35" y="803.9" text-anchor="middle" font-family="Liberation Sans" font-size="11" fill="#8e97a5">12–28</text><polyline points="281.45,775.65 301.74,689.59 322.03,689.59 342.32,682.42 362.61,668.08 382.90,664.49 403.19,696.76 423.48,696.76 443.77,696.76 464.06,693.18 484.35,693.18" fill="none" stroke="#3fa1d9" stroke-width="1.7" stroke-linejoin="round"/><line x1="555.3" y1="775.50" x2="779.0" y2="775.50" stroke="#e3e7ec" stroke-width="1" stroke-dasharray="4 2"/><text x="547.3" y="779.55" text-anchor="end" font-family="Liberation Sans" font-size="11" fill="#8e97a5">0</text><line x1="555.3" y1="755.50" x2="779.0" y2="755.50" stroke="#e3e7ec" stroke-width="1" stroke-dasharray="4 2"/><text x="547.3" y="759.45" text-anchor="end" font-family="Liberation Sans" font-size="11" fill="#8e97a5">10</text><line x1="555.3" y1="735.50" x2="779.0" y2="735.50" stroke="#e3e7ec" stroke-width="1" stroke-dasharray="4 2"/><text x="547.3" y="739.35" text-anchor="end" font-family="Liberation Sans" font-size="11" fill="#8e97a5">20</text><line x1="555.3" y1="715.50" x2="779.0" y2="715.50" stroke="#e3e7ec" stroke-width="1" stroke-dasharray="4 2"/><text x="547.3" y="719.25" text-anchor="end" font-family="Liberation Sans" font-size="11" fill="#8e97a5">30</text><line x1="555.3" y1="695.50" x2="779.0" y2="695.50" stroke="#e3e7ec" stroke-width="1" stroke-dasharray="4 2"/><text x="547.3" y="699.15" text-anchor="end" font-family="Liberation Sans" font-size="11" fill="#8e97a5">40</text><line x1="555.3" y1="675.50" x2="779.0" y2="675.50" stroke="#e3e7ec" stroke-width="1" stroke-dasharray="4 2"/><text x="547.3" y="679.05" text-anchor="end" font-family="Liberation Sans" font-size="11" fill="#8e97a5">50</text><line x1="565.50" y1="775.5" x2="565.50" y2="780.5" stroke="#e3e7ec" stroke-width="1"/><text x="565.47" y="792.9" text-anchor="middle" font-family="Liberation Sans" font-size="11" fill="#8e97a5">12:23</text><text x="565.47" y="803.9" text-anchor="middle" font-family="Liberation Sans" font-size="11" fill="#8e97a5">12–28</text><line x1="606.50" y1="775.5" x2="606.50" y2="780.5" stroke="#e3e7ec" stroke-width="1"/><text x="606.14" y="792.9" text-anchor="middle" font-family="Liberation Sans" font-size="11" fill="#8e97a5">12:25</text><text x="606.14" y="803.9" text-anchor="middle" font-family="Liberation Sans" font-size="11" fill="#8e97a5">12–28</text><line x1="646.50" y1="775.5" x2="646.50" y2="780.5" stroke="#e3e7ec" stroke-width="1"/><text x="646.81" y="792.9" text-anchor="middle" font-family="Liberation Sans" font-size="11" fill="#8e97a5">12:27</text><text x="646.81" y="803.9" text-anchor="middle" font-family="Liberation Sans" font-size="11" fill="#8e97a5">12–28</text><line x1="687.50" y1="775.5" x2="687.50" y2="780.5" stroke="#e3e7ec" stroke-width="1"/><text x="687.49" y="792.9" text-anchor="middle" font-family="Liberation Sans" font-size="11" fill="#8e97a5">12:29</text><text x="687.49" y="803.9" text-anchor="middle" font-family="Liberation Sans" font-size="11" fill="#8e97a5">12–28</text><line x1="728.50" y1="775.5" x2="728.50" y2="780.5" stroke="#e3e7ec" stroke-width="1"/><text x="728.16" y="792.9" text-anchor="middle" font-family="Liberation Sans" font-size="11" fill="#8e97a5">12:31</text><text x="728.16" y="803.9" text-anchor="middle" font-family="Liberation Sans" font-size="11" fill="#8e97a5">12–28</text><line x1="768.50" y1="775.5" x2="768.50" y2="780.5" stroke="#e3e7ec" stroke-width="1"/><text x="768.83" y="792.9" text-anchor="middle" font-family="Liberation Sans" font-size="11" fill="#8e97a5">12:33</text><text x="768.83" y="803.9" text-anchor="middle" font-family="Liberation Sans" font-size="11" fill="#8e97a5">12–28</text><polyline points="565.47,775.65 585.80,735.45 606.14,735.45 626.48,735.45 646.81,725.40 667.15,725.40 687.49,735.45 707.82,735.45 728.16,735.45 748.50,735.45 768.83,735.45" fill="none" stroke="#3fa1d9" stroke-width="1.7" stroke-linejoin="round"/><polyline points="565.47,775.65 585.80,735.45 606.14,735.45 626.48,735.45 646.81,715.35 667.15,725.40 687.49,735.45 707.82,735.45 728.16,735.45 748.50,735.45 768.83,735.45" fill="none" stroke="#6ae0e0" stroke-width="1.7" stroke-linejoin="round"/><polyline points="565.47,775.65 585.80,715.35 606.14,725.40 626.48,715.35 646.81,715.35 667.15,725.40 687.49,735.45 707.82,735.45 728.16,735.45 748.50,735.45 768.83,725.40" fill="none" stroke="#ffd45e" stroke-width="1.7" stroke-linejoin="round"/><polyline points="565.47,775.65 585.80,715.35 606.14,715.35 626.48,715.35 646.81,715.35 667.15,675.15 687.49,725.40 707.82,725.40 728.16,735.45 748.50,725.40 768.83,725.40" fill="none" stroke="#fb9879" stroke-width="1.7" stroke-linejoin="round"/><circle cx="545.0" cy="652.4" r="6" fill="#3fa1d9"/><text x="556.5" y="656.7" font-family="Liberation Sans" font-size="12" fill="#333">50</text><circle cx="586.3" cy="652.4" r="6" fill="#6ae0e0"/><text x="597.8" y="656.7" font-family="Liberation Sans" font-size="12" fill="#333">70</text><circle cx="627.6" cy="652.4" r="6" fill="#ffd45e"/><text x="639.1" y="656.7" font-family="Liberation Sans" font-size="12" fill="#333">90</text><circle cx="668.9" cy="652.4" r="6" fill="#fb9879"/><text x="680.4" y="656.7" font-family="Liberation Sans" font-size="12" fill="#333">99</text><line x1="840.3" y1="775.50" x2="1063.0" y2="775.50" stroke="#e3e7ec" stroke-width="1" stroke-dasharray="4 2"/><text x="832.3" y="779.55" text-anchor="end" font-family="Liberation Sans" font-size="11" fill="#8e97a5">0</text><line x1="840.3" y1="754.50" x2="1063.0" y2="754.50" stroke="#e3e7ec" stroke-width="1" stroke-dasharray="4 2"/><text x="832.3" y="758.63" text-anchor="end" font-family="Liberation Sans" font-size="11" fill="#8e97a5">5</text><line x1="840.3" y1="733.50" x2="1063.0" y2="733.50" stroke="#e3e7ec" stroke-width="1" stroke-dasharray="4 2"/><text x="832.3" y="737.72" text-anchor="end" font-family="Liberation Sans" font-size="11" fill="#8e97a5">10</text><line x1="840.3" y1="712.50" x2="1063.0" y2="712.50" stroke="#e3e7ec" stroke-width="1" stroke-dasharray="4 2"/><text x="832.3" y="716.80" text-anchor="end" font-family="Liberation Sans" font-size="11" fill="#8e97a5">15</text><line x1="840.3" y1="691.50" x2="1063.0" y2="691.50" stroke="#e3e7ec" stroke-width="1" stroke-dasharray="4 2"/><text x="832.3" y="695.88" text-anchor="end" font-family="Liberation Sans" font-size="11" fill="#8e97a5">20</text><line x1="840.3" y1="671.50" x2="1063.0" y2="671.50" stroke="#e3e7ec" stroke-width="1" stroke-dasharray="4 2"/><text x="832.3" y="674.97" text-anchor="end" font-family="Liberation Sans" font-size="11" fill="#8e97a5">25</text><line x1="840.3" y1="650.50" x2="1063.0" y2="650.50" stroke="#e3e7ec" stroke-width="1" stroke-dasharray="4 2"/><text x="832.3" y="654.05" text-anchor="end" font-family="Liberation Sans" font-size="11" fill="#8e97a5">30</text><line x1="850.50" y1="775.5" x2="850.50" y2="780.5" stroke="#e3e7ec" stroke-width="1"/><text x="850.42" y="792.9" text-anchor="middle" font-family="Liberation Sans" font-size="11" fill="#8e97a5">12:23</text><text x="850.42" y="803.9" text-anchor="middle" font-family="Liberation Sans" font-size="11" fill="#8e97a5">12–28</text><line x1="890.50" y1="775.5" x2="890.50" y2="780.5" stroke="#e3e7ec" stroke-width="1"/><text x="890.91" y="792.9" text-anchor="middle" font-family="Liberation Sans" font-size="11" fill="#8e97a5">12:25</text><text x="890.91" y="803.9" text-anchor="middle" font-family="Liberation Sans" font-size="11" fill="#8e97a5">12–28</text><line x1="931.50" y1="775.5" x2="931.50" y2="780.5" stroke="#e3e7ec" stroke-width="1"/><text x="931.40" y="792.9" text-anchor="middle" font-family="Liberation Sans" font-size="11" fill="#8e97a5">12:27</text><text x="931.40" y="803.9" text-anchor="middle" font-family="Liberation Sans" font-size="11" fill="#8e97a5">12–28</text><line x1="971.50" y1="775.5" x2="971.50" y2="780.5" stroke="#e3e7ec" stroke-width="1"/><text x="971.90" y="792.9" text-anchor="middle" font-family="Liberation Sans" font-size="11" fill="#8e97a5">12:29</text><text x="971.90" y="803.9" text-anchor="middle" font-family="Liberation Sans" font-size="11" fill="#8e97a5">12–28</text><line x1="1012.50" y1="775.5" x2="1012.50" y2="780.5" stroke="#e3e7ec" stroke-width="1"/><text x="1012.39" y="792.9" text-anchor="middle" font-family="Liberation Sans" font-size="11" fill="#8e97a5">12:31</text><text x="1012.39" y="803.9" text-anchor="middle" font-family="Liberation Sans" font-size="11" fill="#8e97a5">12–28</text><line x1="1052.50" y1="775.5" x2="1052.50" y2="780.5" stroke="#e3e7ec" stroke-width="1"/><text x="1052.88" y="792.9" text-anchor="middle" font-family="Liberation Sans" font-size="11" fill="#8e97a5">12:33</text><text x="1052.88" y="803.9" text-anchor="middle" font-family="Liberation Sans" font-size="11" fill="#8e97a5">12–28</text><polyline points="850.42,775.65 870.67,675.25 890.91,679.43 911.16,666.88 931.40,654.33 951.65,650.15 971.90,683.62 992.14,687.80 1012.39,687.80 1032.63,683.62 1052.88,683.62" fill="none" stroke="#3fa1d9" stroke-width="1.7" stroke-linejoin="round"/><line x1="1124.3" y1="775.50" x2="1348.0" y2="775.50" stroke="#e3e7ec" stroke-width="1" stroke-dasharray="4 2"/><text x="1116.3" y="779.55" text-anchor="end" font-family="Liberation Sans" font-size="11" fill="#8e97a5">0</text><line x1="1124.3" y1="755.50" x2="1348.0" y2="755.50" stroke="#e3e7ec" stroke-width="1" stroke-dasharray="4 2"/><text x="1116.3" y="759.45" text-anchor="end" font-family="Liberation Sans" font-size="11" fill="#8e97a5">10</text><line x1="1124.3" y1="735.50" x2="1348.0" y2="735.50" stroke="#e3e7ec" stroke-width="1" stroke-dasharray="4 2"/><text x="1116.3" y="739.35" text-anchor="end" font-family="Liberation Sans" font-size="11" fill="#8e97a5">20</text><line x1="1124.3" y1="715.50" x2="1348.0" y2="715.50" stroke="#e3e7ec" stroke-width="1" stroke-dasharray="4 2"/><text x="1116.3" y="719.25" text-anchor="end" font-family="Liberation Sans" font-size="11" fill="#8e97a5">30</text><line x1="1124.3" y1="695.50" x2="1348.0" y2="695.50" stroke="#e3e7ec" stroke-width="1" stroke-dasharray="4 2"/><text x="1116.3" y="699.15" text-anchor="end" font-family="Liberation Sans" font-size="11" fill="#8e97a5">40</text><line x1="1124.3" y1="675.50" x2="1348.0" y2="675.50" stroke="#e3e7ec" stroke-width="1" stroke-dasharray="4 2"/><text x="1116.3" y="679.05" text-anchor="end" font-family="Liberation Sans" font-size="11" fill="#8e97a5">50</text><line x1="1134.50" y1="775.5" x2="1134.50" y2="780.5" stroke="#e3e7ec" stroke-width="1"/><text x="1134.47" y="792.9" text-anchor="middle" font-family="Liberation Sans" font-size="11" fill="#8e97a5">12:23</text><text x="1134.47" y="803.9" text-anchor="middle" font-family="Liberation Sans" font-size="11" fill="#8e97a5">12–28</text><line x1="1175.50" y1="775.5" x2="1175.50" y2="780.5" stroke="#e3e7ec" stroke-width="1"/><text x="1175.14" y="792.9" text-anchor="middle" font-family="Liberation Sans" font-size="11" fill="#8e97a5">12:25</text><text x="1175.14" y="803.9" text-anchor="middle" font-family="Liberation Sans" font-size="11" fill="#8e97a5">12–28</text><line x1="1215.50" y1="775.5" x2="1215.50" y2="780.5" stroke="#e3e7ec" stroke-width="1"/><text x="1215.81" y="792.9" text-anchor="middle" font-family="Liberation Sans" font-size="11" fill="#8e97a5">12:27</text><text x="1215.81" y="803.9" text-anchor="middle" font-family="Liberation Sans" font-size="11" fill="#8e97a5">12–28</text><line x1="1256.50" y1="775.5" x2="1256.50" y2="780.5" stroke="#e3e7ec" stroke-width="1"/><text x="1256.49" y="792.9" text-anchor="middle" font-family="Liberation Sans" font-size="11" fill="#8e97a5">12:29</text><text x="1256.49" y="803.9" text-anchor="middle" font-family="Liberation Sans" font-size="11" fill="#8e97a5">12–28</text><line x1="1297.50" y1="775.5" x2="1297.50" y2="780.5" stroke="#e3e7ec" stroke-width="1"/><text x="1297.16" y="792.9" text-anchor="middle" font-family="Liberation Sans" font-size="11" fill="#8e97a5">12:31</text><text x="1297.16" y="803.9" text-anchor="middle" font-family="Liberation Sans" font-size="11" fill="#8e97a5">12–28</text><line x1="1337.50" y1="775.5" x2="1337.50" y2="780.5" stroke="#e3e7ec" stroke-width="1"/><text x="1337.83" y="792.9" text-anchor="middle" font-family="Liberation Sans" font-size="11" fill="#8e97a5">12:33</text><text x="1337.83" y="803.9" text-anchor="middle" font-family="Liberation Sans" font-size="11" fill="#8e97a5">12–28</text><polyline points="1134.47,775.65 1154.80,735.45 1175.14,735.45 1195.48,735.45 1215.81,725.40 1236.15,725.40 1256.49,735.45 1276.82,735.45 1297.16,735.45 1317.50,735.45 1337.83,735.45" fill="none" stroke="#3fa1d9" stroke-width="1.7" stroke-linejoin="round"/><polyline points="1134.47,775.65 1154.80,735.45 1175.14,735.45 1195.48,735.45 1215.81,725.40 1236.15,725.40 1256.49,735.45 1276.82,735.45 1297.16,735.45 1317.50,735.45 1337.83,735.45" fill="none" stroke="#6ae0e0" stroke-width="1.7" stroke-linejoin="round"/><polyline points="1134.47,775.65 1154.80,715.35 1175.14,725.40 1195.48,715.35 1215.81,715.35 1236.15,725.40 1256.49,735.45 1276.82,735.45 1297.16,735.45 1317.50,735.45 1337.83,725.40" fill="none" stroke="#ffd45e" stroke-width="1.7" stroke-linejoin="round"/><polyline points="1134.47,775.65 1154.80,715.35 1175.14,725.40 1195.48,715.35 1215.81,715.35 1236.15,675.15 1256.49,725.40 1276.82,735.45 1297.16,735.45 1317.50,725.40 1337.83,725.40" fill="none" stroke="#fb9879" stroke-width="1.7" stroke-linejoin="round"/><circle cx="1114.0" cy="652.4" r="6" fill="#3fa1d9"/><text x="1125.5" y="656.7" font-family="Liberation Sans" font-size="12" fill="#333">50</text><circle cx="1155.3" cy="652.4" r="6" fill="#6ae0e0"/><text x="1166.8" y="656.7" font-family="Liberation Sans" font-size="12" fill="#333">70</text><circle cx="1196.6" cy="652.4" r="6" fill="#ffd45e"/><text x="1208.1" y="656.7" font-family="Liberation Sans" font-size="12" fill="#333">90</text><circle cx="1237.9" cy="652.4" r="6" fill="#fb9879"/><text x="1249.4" y="656.7" font-family="Liberation Sans" font-size="12" fill="#333">99</text></svg>
</body></html>
